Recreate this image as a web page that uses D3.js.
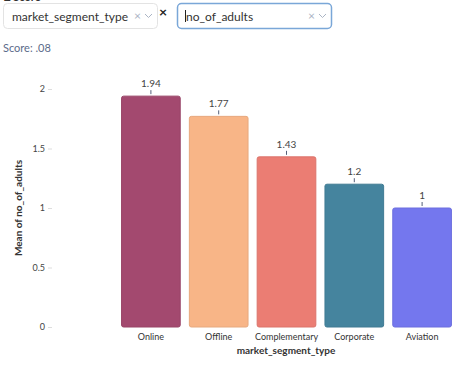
<!DOCTYPE html>
<html>
<head>
<meta charset="utf-8">
<script src="https://cdn.jsdelivr.net/npm/d3@7"></script>
<style>
  body { margin: 0; background: #fff; font-family: Lato, "Open Sans", sans-serif; }
  svg text { font-family: Lato, "Open Sans", sans-serif; }
</style>
</head>
<body>
<div id="chart"></div>
<script>
// values
var categories = ["Online", "Offline", "Complementary", "Corporate", "Aviation"];
var means = [1.94, 1.77, 1.43, 1.2, 1];
var colors = ["#a3496f", "#f8b587", "#eb7d73", "#45849e", "#7477ee"];
var yTicks = [0, 0.5, 1, 1.5, 2];
var xField = "market_segment_type";
var yField = "no_of_adults";
var score = ".08";

var W = 462, H = 367;
var svg = d3.select("#chart").append("svg")
  .attr("width", W).attr("height", H);

// header: cut-off caption and the two select boxes
svg.append("text").attr("x", 4).attr("y", 1)
  .style("font-size", "11px").style("font-weight", "bold").attr("fill", "#333")
  .text("Z Score");

function selectBox(x, label, focused) {
  var g = svg.append("g").attr("transform", "translate(" + x + ",3)");
  g.append("rect").attr("x", 0.5).attr("y", 0.5).attr("width", 154).attr("height", 25)
    .attr("rx", 4).attr("fill", "#fff")
    .attr("stroke", focused ? "#7aa7d8" : "#e3e3e3").attr("stroke-width", focused ? 1.5 : 1);
  g.append("text").attr("x", 9).attr("y", 17.5)
    .style("font-size", "12px").attr("fill", "#333").text(label);
  if (focused) {
    g.append("line").attr("x1", 8.5).attr("x2", 8.5).attr("y1", 7).attr("y2", 19)
      .attr("stroke", "#222").attr("stroke-width", 1);
  }
  g.append("text").attr("x", 131).attr("y", 17)
    .style("font-size", "12px").attr("fill", "#aab4c4").text("×");
  g.append("path").attr("d", "M142,11 L145.5,14.5 L149,11")
    .attr("fill", "none").attr("stroke", "#aab4c4").attr("stroke-width", 1);
}
selectBox(3, xField, false);
svg.append("text").attr("x", 159).attr("y", 17)
  .style("font-size", "14px").style("font-weight", "bold").attr("fill", "#222").text("×");
selectBox(177, yField, true);

svg.append("text").attr("x", 3).attr("y", 52)
  .style("font-size", "11px").attr("fill", "#5b6b8a").text("Score: " + score);

// chart
var x = d3.scaleBand().domain(categories).range([117, 456]).paddingInner(0.12).paddingOuter(0.06);
var y = d3.scaleLinear().domain([0, 2]).range([327, 89]);

var yAxis = d3.axisLeft(y).tickValues(yTicks).tickSize(4).tickPadding(3)
  .tickFormat(function(d) { return d3.format("")(d); });
var gy = svg.append("g").attr("transform", "translate(52,0)").call(yAxis);
gy.select(".domain").remove();
gy.selectAll(".tick line").attr("stroke", "#ddd");
gy.selectAll(".tick text").attr("fill", "#444").style("font-size", "9px");

svg.append("text")
  .attr("transform", "translate(22," + y(1) + ") rotate(-90)")
  .attr("text-anchor", "middle")
  .style("font-size", "10px").style("font-weight", "bold").attr("fill", "#333")
  .text("Mean of " + yField);

var bars = svg.append("g").selectAll("g").data(categories).enter().append("g");
bars.append("rect")
  .attr("x", function(d) { return x(d) + 0.5; })
  .attr("y", function(d, i) { return y(means[i]); })
  .attr("width", x.bandwidth() - 1)
  .attr("height", function(d, i) { return y(0) - y(means[i]); })
  .attr("rx", 2)
  .attr("fill", function(d, i) { return colors[i]; })
  .attr("stroke", function(d, i) { return d3.color(colors[i]).darker(0.2); })
  .attr("stroke-width", 1);

// tiny error marks above each bar
bars.append("line")
  .attr("x1", function(d) { return x(d) + x.bandwidth() / 2; })
  .attr("x2", function(d) { return x(d) + x.bandwidth() / 2; })
  .attr("y1", function(d, i) { return y(means[i]) - 6; })
  .attr("y2", function(d, i) { return y(means[i]) - 2; })
  .attr("stroke", "#55607a").attr("stroke-width", 1);

bars.append("text")
  .attr("x", function(d) { return x(d) + x.bandwidth() / 2; })
  .attr("y", function(d, i) { return y(means[i]) - 9; })
  .attr("text-anchor", "middle")
  .style("font-size", "10px").attr("fill", "#444")
  .text(function(d, i) { return means[i]; });

var xAxis = d3.axisBottom(x).tickSize(0).tickPadding(7);
var gx = svg.append("g").attr("transform", "translate(0,327)").call(xAxis);
gx.select(".domain").remove();
gx.selectAll(".tick text").attr("fill", "#333").style("font-size", "9px");

svg.append("text").attr("x", 286).attr("y", 354)
  .attr("text-anchor", "middle")
  .style("font-size", "10px").style("font-weight", "bold").attr("fill", "#333")
  .text(xField);
</script>
</body>
</html>
